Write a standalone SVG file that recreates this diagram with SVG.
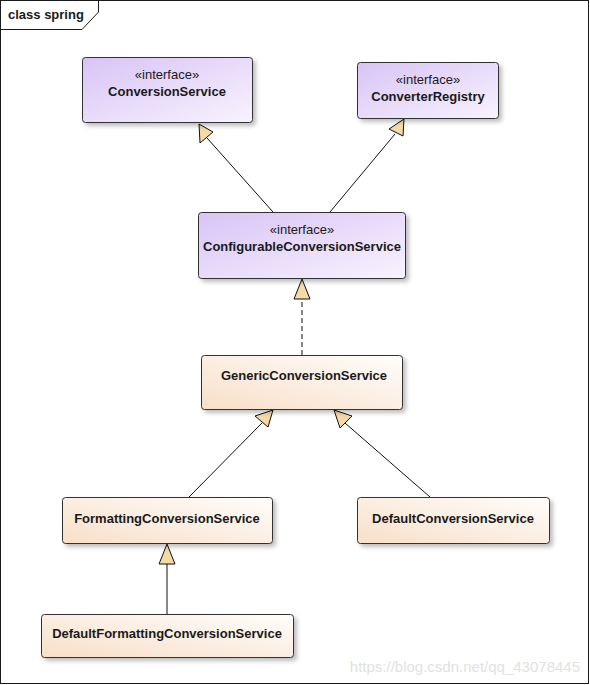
<svg xmlns="http://www.w3.org/2000/svg" width="590" height="685" viewBox="0 0 590 685">
<style>
.t{font-family:"Liberation Sans",Arial,sans-serif;font-size:13px;fill:#1a1a1a;text-anchor:middle}
.b{font-weight:bold}
.box{stroke:#303030;stroke-width:1}
.edge{stroke:#111;stroke-width:1;fill:none}
.head{fill:#f5d9a6;stroke:#111;stroke-width:1}
</style>
<defs>
<linearGradient id="gi" x1="0" y1="0" x2="1" y2="1">
<stop offset="0" stop-color="#d8c4f6"/>
<stop offset="1" stop-color="#f8f3fe"/>
</linearGradient>
<linearGradient id="gc" x1="0" y1="1" x2="1" y2="0">
<stop offset="0" stop-color="#f8dfc9"/>
<stop offset="1" stop-color="#fffdfb"/>
</linearGradient>
<filter id="sh" x="-10%" y="-10%" width="130%" height="140%">
<feDropShadow dx="3" dy="3" stdDeviation="2" flood-color="#000" flood-opacity="0.25"/>
</filter>
</defs>
<rect x="0.5" y="0.5" width="588" height="683" fill="#fff" stroke="#1a1a1a"/>
<g id="frame-label">
<path d="M0.5 29.5 H82 L98.5 12 V0.5" fill="none" stroke="#1a1a1a"/>
<text x="8" y="19" class="t b" style="text-anchor:start">class spring</text>
</g>
<g id="connectors">
<line class="edge" x1="273" y1="212" x2="207" y2="138"/>
<polygon class="head" points="199,124 213,132 200,143"/>
<line class="edge" x1="330" y1="212" x2="395" y2="134"/>
<polygon class="head" points="404,119 403,136 389,129"/>
<line class="edge" x1="302" y1="355" x2="302" y2="299" stroke-dasharray="5,3"/>
<polygon class="head" points="302,279 310,299 294,299"/>
<line class="edge" x1="189" y1="497" x2="262" y2="423"/>
<polygon class="head" points="273,410 268,427 255,416"/>
<line class="edge" x1="430" y1="497" x2="345" y2="423"/>
<polygon class="head" points="334,410 352,416 340,428"/>
<line class="edge" x1="167" y1="614" x2="167" y2="563"/>
<polygon class="head" points="167,544 175,564 159,564"/>
</g>
<g id="ConversionService">
<rect class="box" x="82.5" y="57.5" width="170" height="65" rx="3" fill="url(#gi)" filter="url(#sh)"/>
<text class="t" x="167" y="79">«interface»</text>
<text class="t b" x="167" y="96">ConversionService</text>
</g>
<g id="ConverterRegistry">
<rect class="box" x="357.5" y="62.5" width="141" height="56" rx="3" fill="url(#gi)" filter="url(#sh)"/>
<text class="t" x="428" y="84">«interface»</text>
<text class="t b" x="428" y="101">ConverterRegistry</text>
</g>
<g id="ConfigurableConversionService">
<rect class="box" x="198.5" y="212.5" width="207" height="66" rx="3" fill="url(#gi)" filter="url(#sh)"/>
<text class="t" x="302" y="234">«interface»</text>
<text class="t b" x="302" y="251">ConfigurableConversionService</text>
</g>
<g id="GenericConversionService">
<rect class="box" x="201.5" y="355.5" width="201" height="54" rx="3" fill="url(#gc)" filter="url(#sh)"/>
<text class="t b" x="304" y="380">GenericConversionService</text>
</g>
<g id="FormattingConversionService">
<rect class="box" x="62.5" y="497.5" width="210" height="46" rx="3" fill="url(#gc)" filter="url(#sh)"/>
<text class="t b" x="167" y="523">FormattingConversionService</text>
</g>
<g id="DefaultConversionService">
<rect class="box" x="357.5" y="497.5" width="192" height="46" rx="3" fill="url(#gc)" filter="url(#sh)"/>
<text class="t b" x="453" y="523">DefaultConversionService</text>
</g>
<g id="DefaultFormattingConversionService">
<rect class="box" x="41.5" y="614.5" width="252" height="43" rx="3" fill="url(#gc)" filter="url(#sh)"/>
<text class="t b" x="167" y="638">DefaultFormattingConversionService</text>
</g>
<text x="580" y="672" style="font-family:'Liberation Sans',Arial,sans-serif;font-size:15px;fill:#e2e2e2;text-anchor:end">https://blog.csdn.net/qq_43078445</text>
</svg>
